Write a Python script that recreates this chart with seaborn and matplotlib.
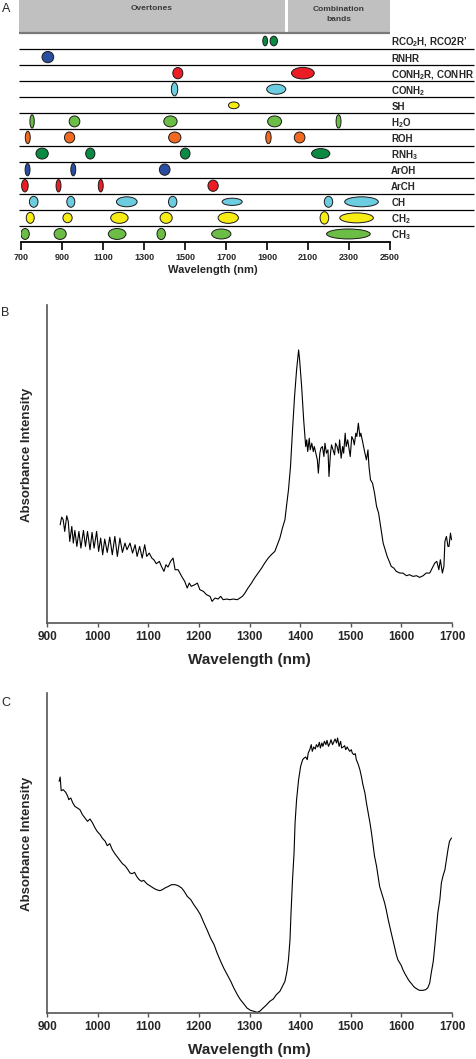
import pandas as pd
import seaborn as sns
import matplotlib.pyplot as plt
from matplotlib.patches import Ellipse, Rectangle

sns.set_style("ticks")
plt.rcParams["font.family"] = ["Liberation Sans", "DejaVu Sans"]
plt.rcParams["mathtext.fontset"] = "custom"
plt.rcParams["mathtext.rm"] = "Liberation Sans:bold"
plt.rcParams["mathtext.default"] = "rm"

# ----------- Panel A: band assignment chart -----------
groups = ["RCO$_2$H, RCO2R\u2019", "RNHR", "CONH$_2$R, CONHR", "CONH$_2$", "SH",
          "H$_2$O", "ROH", "RNH$_3$", "ArOH", "ArCH", "CH", "CH$_2$", "CH$_3$"]

lgreen = "#6cbd45"
dgreen = "#0b8a43"
blue = "#2b4da0"
red = "#ec1c24"
cyan = "#6dcde0"
yellow = "#f7ec13"
orange = "#f26a22"
group_colors = [dgreen, blue, red, cyan, yellow, lgreen, orange, dgreen,
                blue, red, cyan, yellow, lgreen]

# band centres (nm), widths (nm) and heights (fraction of a row)
band_centers = [
    [1891, 1933],
    [831],
    [1465, 2075],
    [1449, 1945],
    [1738],
    [754, 961, 1429, 1937, 2249],
    [733, 937, 1450, 1907, 2059],
    [803, 1038, 1501, 2162],
    [732, 955, 1401],
    [719, 883, 1089, 1637],
    [762, 943, 1216, 1440, 1730, 2200, 2361],
    [745, 927, 1180, 1408, 1711, 2180, 2337],
    [720, 891, 1169, 1384, 1677, 2297],
]
band_widths = [
    [23, 36],
    [57],
    [49, 111],
    [31, 93],
    [52],
    [21, 52, 65, 68, 24],
    [24, 50, 60, 26, 52],
    [60, 45, 47, 89],
    [24, 24, 52],
    [32, 24, 24, 50],
    [42, 39, 101, 41, 98, 41, 164],
    [39, 45, 85, 59, 99, 42, 164],
    [41, 59, 86, 41, 94, 213],
]
band_heights = [
    [0.6, 0.6],
    [0.7],
    [0.7, 0.72],
    [0.83, 0.62],
    [0.42],
    [0.83, 0.68, 0.68, 0.68, 0.83],
    [0.77, 0.68, 0.68, 0.77, 0.68],
    [0.68, 0.68, 0.68, 0.62],
    [0.77, 0.77, 0.7],
    [0.77, 0.77, 0.77, 0.7],
    [0.68, 0.68, 0.62, 0.68, 0.45, 0.68, 0.62],
    [0.68, 0.6, 0.68, 0.68, 0.68, 0.77, 0.62],
    [0.68, 0.68, 0.68, 0.7, 0.62, 0.62],
]

regions = ["Overtones", "Combination\nbands"]
region_start = [688, 2000]
region_end = [1990, 2500]
a_ticks = [700, 900, 1100, 1300, 1500, 1700, 1900, 2100, 2300, 2500]

# ----------- Panel B: spectrum -----------
b_wavelength = [
    926, 929, 932, 935, 939, 942, 945, 949, 952, 955, 959, 963, 967, 972, 976, 980,
    985, 989, 993, 998, 1002, 1006, 1010, 1014, 1019, 1024, 1029, 1034, 1039, 1044,
    1049, 1054, 1058, 1064, 1069, 1074, 1078, 1083, 1088, 1093, 1097, 1102, 1107,
    1111, 1116, 1122, 1126, 1131, 1135, 1139, 1144, 1149, 1153, 1159, 1166, 1172,
    1177, 1181, 1185, 1192, 1197, 1202, 1209, 1215, 1222, 1226, 1232, 1238, 1243,
    1248, 1255, 1261, 1268, 1276, 1281, 1286, 1291, 1297, 1304, 1310, 1317, 1324,
    1330, 1337, 1343, 1350, 1355, 1360, 1365, 1370, 1373, 1377, 1381, 1385, 1389,
    1393, 1397, 1399, 1403, 1407, 1411, 1413, 1415, 1418, 1420, 1423, 1426, 1428,
    1431, 1434, 1436, 1439, 1441, 1444, 1447, 1449, 1452, 1455, 1457, 1460, 1462,
    1465, 1468, 1470, 1473, 1476, 1478, 1481, 1484, 1486, 1489, 1491, 1494, 1497,
    1499, 1502, 1505, 1507, 1510, 1512, 1515, 1518, 1520, 1524, 1528, 1531, 1534,
    1536, 1539, 1543, 1547, 1551, 1555, 1559, 1564, 1568, 1572, 1576, 1580, 1585,
    1590, 1597, 1603, 1610, 1616, 1623, 1630, 1636, 1643, 1649, 1656, 1662, 1666,
    1670, 1674, 1677, 1681, 1684, 1686, 1689, 1692, 1694, 1697, 1699]
b_absorbance = [
    295, 318, 310, 275, 322, 305, 245, 290, 240, 278, 230, 275, 225, 278, 230, 275,
    220, 272, 225, 275, 215, 255, 205, 252, 212, 258, 205, 260, 200, 255,
    212, 240, 220, 240, 210, 235, 200, 230, 195, 235, 200, 210, 195,
    190, 178, 185, 170, 155, 175, 168, 185, 195, 160, 160, 140, 125,
    105, 120, 110, 115, 120, 100, 95, 85, 80, 65, 75, 72, 80,
    70, 72, 70, 72, 70, 75, 80, 90, 105, 120, 135, 150, 165,
    180, 195, 205, 215, 235, 255, 285, 310, 350, 400, 470, 580, 680,
    760, 820, 790, 710, 610, 530, 550, 515, 555, 520, 540, 515, 530,
    510, 490, 450, 510, 525, 530, 500, 540, 510, 520, 440, 510, 535,
    520, 505, 540, 530, 510, 550, 495, 530, 510, 570, 530, 550, 520,
    500, 560, 550, 535, 570, 560, 600, 560, 570, 540, 510, 490, 520,
    470, 430, 420, 390, 350, 330, 290, 240, 220, 200, 185, 170, 165,
    155, 150, 150, 142, 145, 140, 142, 137, 142, 150, 150, 168, 180,
    185, 160, 190, 150, 170, 245, 260, 230, 230, 270, 250]

# ----------- Panel C: spectrum -----------
c_wavelength = [
    924, 926, 928, 932, 937, 941, 943, 947, 951, 955, 960, 965, 970, 975, 980, 985,
    990, 995, 999, 1005, 1009, 1015, 1019, 1024, 1029, 1034, 1039, 1044, 1049, 1054,
    1059, 1064, 1068, 1073, 1077, 1082, 1087, 1091, 1097, 1103, 1110, 1116, 1123,
    1128, 1133, 1140, 1146, 1153, 1159, 1166, 1171, 1177, 1184, 1190, 1197, 1203,
    1210, 1216, 1223, 1230, 1236, 1243, 1249, 1256, 1263, 1269, 1276, 1282, 1289,
    1295, 1302, 1309, 1315, 1320, 1327, 1334, 1340, 1347, 1353, 1360, 1365, 1370,
    1374, 1377, 1380, 1382, 1385, 1388, 1390, 1393, 1397, 1401, 1405, 1408, 1411,
    1414, 1416, 1419, 1422, 1424, 1427, 1430, 1432, 1435, 1438, 1440, 1443, 1445,
    1448, 1451, 1453, 1456, 1459, 1461, 1464, 1466, 1469, 1472, 1474, 1477, 1480,
    1482, 1485, 1488, 1490, 1493, 1495, 1498, 1501, 1503, 1506, 1509, 1511, 1515,
    1518, 1521, 1524, 1528, 1531, 1534, 1538, 1541, 1544, 1547, 1551, 1554, 1557,
    1561, 1564, 1567, 1570, 1574, 1577, 1580, 1584, 1587, 1590, 1593, 1597, 1600,
    1603, 1607, 1610, 1613, 1616, 1620, 1623, 1626, 1630, 1633, 1636, 1643, 1648,
    1652, 1656, 1659, 1663, 1666, 1669, 1672, 1676, 1679, 1682, 1686, 1689, 1692,
    1695, 1699]
c_absorbance = [
    695, 708, 667, 670, 662, 650, 640, 645, 630, 620, 615, 610, 595, 585, 575, 582,
    570, 555, 545, 535, 525, 515, 502, 508, 490, 478, 468, 458, 448, 442,
    432, 420, 418, 422, 410, 400, 395, 398, 388, 382, 375, 370, 367,
    370, 375, 380, 385, 385, 382, 375, 365, 350, 340, 325, 310, 295,
    270, 250, 225, 205, 180, 155, 135, 115, 95, 75, 55, 40, 27,
    15, 8, 5, 2, 5, 15, 25, 35, 42, 55, 65, 80, 95,
    125, 160, 220, 300, 400, 480, 570, 640, 700, 740, 760, 765, 768,
    760, 780, 790, 805, 785, 798, 792, 805, 798, 812, 795, 810, 800,
    815, 805, 818, 800, 810, 820, 805, 812, 822, 810, 825, 800, 815,
    795, 798, 802, 790, 798, 792, 785, 790, 780, 775, 778, 760, 745,
    730, 710, 685, 660, 630, 605, 570, 540, 505, 470, 440, 410, 380,
    360, 345, 330, 310, 280, 260, 240, 215, 195, 175, 160, 150, 142,
    130, 118, 110, 102, 95, 88, 82, 77, 73, 70, 68, 68, 70,
    75, 90, 120, 155, 200, 250, 300, 340, 390, 410, 430, 460, 490,
    515, 525]
spec_ticks = [900, 1000, 1100, 1200, 1300, 1400, 1500, 1600, 1700]

W, H = 477, 1059
fig = plt.figure(figsize=(W / 100, H / 100), dpi=100)

# ----- Panel A -----
ax_a = fig.add_axes([21 / W, 1 - 242 / H, 369 / W, 242 / H])
n_rows = len(groups)
header_h = 2.05
ax_a.set_xlim(700, 2500)
ax_a.set_ylim(n_rows, -header_h)

for name, x0, x1 in zip(regions, region_start, region_end):
    ax_a.add_patch(Rectangle((x0, -header_h), x1 - x0, header_h,
                             facecolor="#c0c0c0", edgecolor="none", clip_on=False))
ax_a.plot([region_start[0], region_end[-1]], [0, 0], color="#7a7a7a", lw=1.6,
          clip_on=False, solid_capstyle="butt")
ax_a.text((region_start[0] + region_end[0]) / 2, -1.5, regions[0], ha="center",
          va="center", fontsize=6, fontweight="bold", color="#3a3a3a")
ax_a.text((region_start[1] + region_end[1]) / 2, -1.15, regions[1], ha="center",
          va="center", fontsize=6, fontweight="bold", color="#3a3a3a", linespacing=1.6)

ax_a.hlines(range(1, n_rows), 688, 2912, color="black", lw=0.9, clip_on=False)

for i, (label, col) in enumerate(zip(groups, group_colors)):
    y = i + 0.5
    for cx, w, h in zip(band_centers[i], band_widths[i], band_heights[i]):
        ax_a.add_patch(Ellipse((cx, y), w, h, facecolor=col, edgecolor="#1a1a1a",
                               lw=0.7, zorder=3))
    ax_a.text(2506, y + 0.1, label, ha="left", va="center", fontsize=7,
              fontweight="bold", clip_on=False)

for s in ["left", "top", "right"]:
    ax_a.spines[s].set_visible(False)
ax_a.spines["bottom"].set_color("black")
ax_a.spines["bottom"].set_linewidth(1.3)
ax_a.set_yticks([])
ax_a.set_xticks(a_ticks)
ax_a.set_xticklabels([str(t) for t in a_ticks], fontsize=6.5, fontweight="bold")
ax_a.tick_params(axis="x", direction="out", length=6, width=1.2, color="black", pad=2)
ax_a.set_xlabel("Wavelength (nm)", fontsize=8, fontweight="bold", labelpad=2)
ax_a.xaxis.set_label_coords(0.52, -0.095)


def spectrum_panel(rect, wl, ab, ytop):
    ax = fig.add_axes(rect)
    df = pd.DataFrame({"wl": wl, "ab": ab})
    sns.lineplot(data=df, x="wl", y="ab", ax=ax, color="black", lw=0.8,
                 estimator=None, sort=False)
    ax.set_xlim(900, 1700)
    ax.set_ylim(0, ytop)
    ax.set_yticks([])
    ax.set_xticks(spec_ticks)
    ax.set_xticklabels([str(t) for t in spec_ticks], fontsize=8.5, fontweight="bold")
    ax.tick_params(axis="x", direction="out", length=3, width=1, color="#555555", pad=3)
    for s in ["top", "right"]:
        ax.spines[s].set_visible(False)
    for s in ["left", "bottom"]:
        ax.spines[s].set_color("#555555")
        ax.spines[s].set_linewidth(1.2)
    ax.set_xlabel("Wavelength (nm)", fontsize=11, fontweight="bold", labelpad=7)
    ax.set_ylabel("Absorbance Intensity", fontsize=9.5, fontweight="bold")
    return ax


ax_b = spectrum_panel([47 / W, 1 - 623 / H, 405 / W, 318 / H], b_wavelength, b_absorbance, 955)
ax_b.yaxis.set_label_coords(-13.5 / 405, 0.53)
ax_c = spectrum_panel([47 / W, 1 - 1013 / H, 405 / W, 320 / H], c_wavelength, c_absorbance, 960)
ax_c.yaxis.set_label_coords(-13.5 / 405, 0.53)

fig.text(2 / W, 1 - 9 / H, "A", fontsize=9, va="center", ha="left")
fig.text(1 / W, 1 - 313 / H, "B", fontsize=9, va="center", ha="left")
fig.text(1 / W, 1 - 703 / H, "C", fontsize=9, va="center", ha="left")

fig.savefig("out.png", dpi=100)
